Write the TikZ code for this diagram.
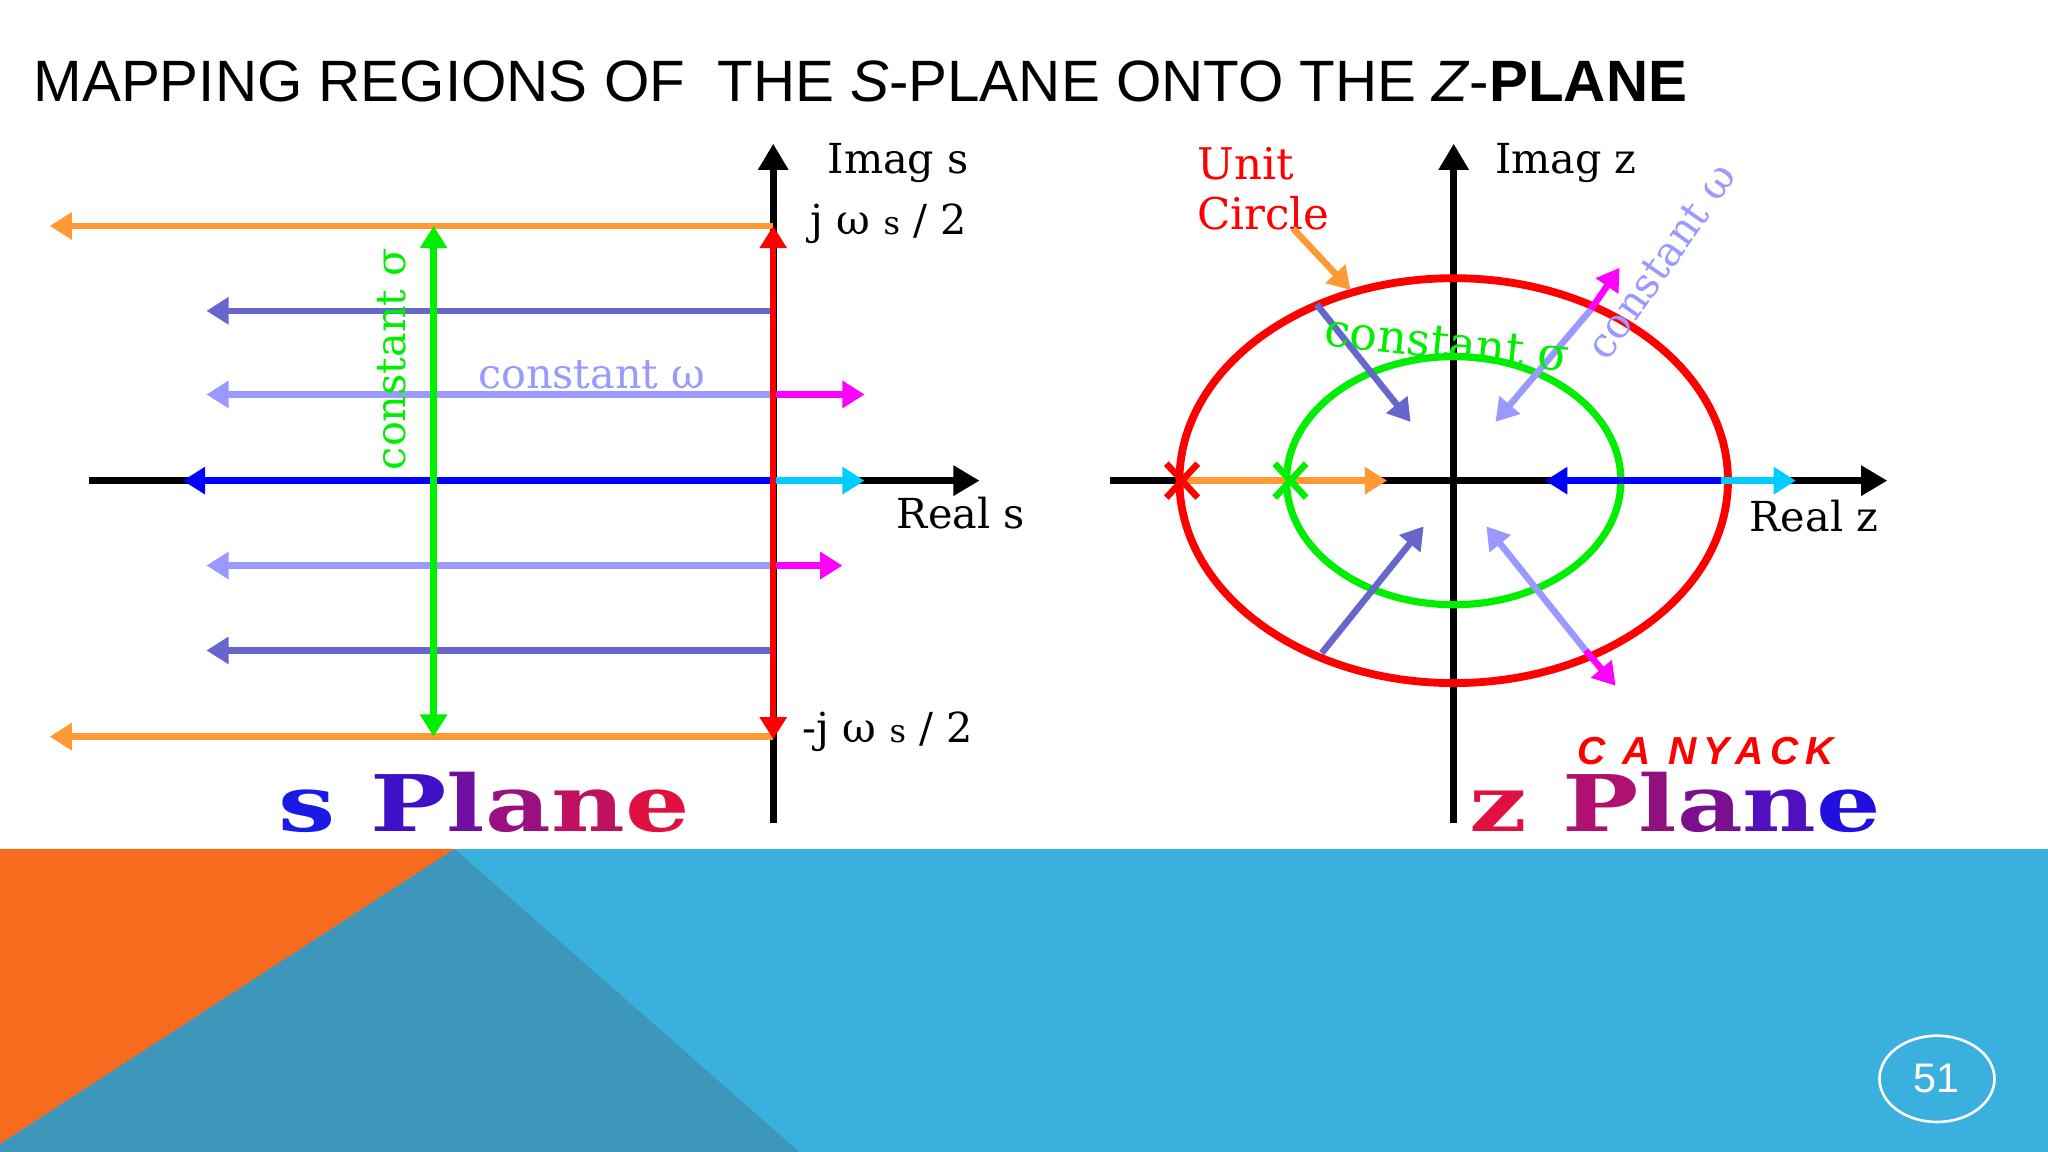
\documentclass[tikz,border=0pt]{standalone}
\usepackage{fontspec}
\setmainfont{DejaVu Serif}
\newfontfamily\ttl{Liberation Sans}
\newfontfamily\djfont{DejaVu Serif}
\usetikzlibrary{arrows.meta,shapes.geometric}
\definecolor{orng}{HTML}{FF9933}
\definecolor{slate}{HTML}{6666CC}
\definecolor{lpur}{HTML}{9999FF}
\definecolor{mag}{HTML}{FF00FF}
\definecolor{cy}{HTML}{00CCFF}
\definecolor{grn}{HTML}{00EE00}
\definecolor{bandblue}{HTML}{3AB0DF}
\definecolor{bandteal}{HTML}{3D97BA}
\definecolor{bandor}{HTML}{F76B1F}
\tikzset{x=0.01cm,y=-0.01cm,
 ar/.style={line width=0.05cm,-{Triangle[width=0.2cm,length=0.17cm]}},
 dar/.style={line width=0.05cm,{Triangle[width=0.2cm,length=0.17cm]}-{Triangle[width=0.2cm,length=0.17cm]}},
 axis/.style={line width=0.055cm,-{Triangle[width=0.22cm,length=0.2cm]}},
 lbl/.style={font=\fontsize{9}{10}\selectfont,inner sep=0pt},
 big/.style={font=\fontsize{17}{17}\selectfont\bfseries,inner sep=0pt,xscale=1.3}}
\begin{document}
\begin{tikzpicture}
\useasboundingbox (0,0) rectangle (1568,882);
\fill[white] (0,0) rectangle (1568,882);
% band
\fill[bandblue] (0,650) rectangle (1568,882);
\fill[bandor] (0,650) -- (348,650) -- (0,876) -- cycle;
\fill[bandteal] (348,650) -- (612,882) -- (0,882) -- (0,876) -- cycle;
\node[draw=white,line width=0.02cm,ellipse,minimum width=0.88cm,minimum height=0.66cm,inner sep=0pt] (pg) at (1483,826) {};
\node[text=white,font=\ttl\fontsize{9}{9}\selectfont] (pgn) at (1483,826) {51};
% title
\node[anchor=base west,inner sep=0pt,font=\ttl\fontsize{12.7}{13}\selectfont] (title) at (25,78) {MAPPING REGIONS OF\ \ THE \textit{S}-PLANE ONTO THE \textit{Z}-\textbf{PLANE}};
% ---------- s plane ----------
\coordinate (iab) at (592,630); \coordinate (iat) at (592,110);
\draw[axis] (iab) -- (iat);
\coordinate (ral) at (68,368); \coordinate (rar) at (750,368);
\draw[axis] (ral) -- (rar);
\foreach \y/\e/\c in {173/38/orng,564/38/orng,238/158/slate,498/158/slate,302/158/lpur,433/158/lpur,368/140/blue}{
  \coordinate (s\y) at (592,\y); \coordinate (e\y) at (\e,\y);
  \draw[ar,\c] (s\y) -- (e\y);}
\coordinate (m1) at (662,302); \coordinate (m2) at (645,433); \coordinate (c1) at (662,368);
\draw[ar,mag] (s302) -- (m1);
\draw[ar,mag] (s433) -- (m2);
\draw[ar,cy] (s368) -- (c1);
\coordinate (rt) at (592,173); \coordinate (rb) at (592,566);
\draw[dar,red] (rt) -- (rb);
\coordinate (gt) at (332,173); \coordinate (gb) at (332,564);
\draw[dar,grn] (gt) -- (gb);
\node[lbl,text=grn,rotate=90] (cs) at (300,275) {constant σ};
\node[lbl,text=lpur] (cw) at (453,287) {constant ω};
\node[lbl,anchor=west] (ims) at (633,125) {Imag s};
\node[lbl,anchor=west] (jw) at (620,171) {j ω {\fontsize{7}{7}\selectfont s} / 2};
\node[lbl,anchor=west] (res) at (686,393) {Real s};
\node[lbl,anchor=west] (mjw) at (614,560) {-j ω {\fontsize{7}{7}\selectfont s} / 2};
\node[big,anchor=base west] (sp) at (212,637) {\djfont\textcolor[HTML]{1A1AE6}{s} \textcolor[HTML]{4010C8}{P}\textcolor[HTML]{7010A0}{l}\textcolor[HTML]{9A1080}{a}\textcolor[HTML]{C01060}{n}\textcolor[HTML]{E01040}{e}};
% ---------- z plane ----------
\coordinate (zab) at (1113,630); \coordinate (zat) at (1113,110);
\draw[axis] (zab) -- (zat);
\coordinate (zrl) at (850,368); \coordinate (zrr) at (1445,368);
\draw[axis] (zrl) -- (zrr);
\coordinate (zc) at (1113,368);
\draw[red,line width=0.06cm] (zc) ellipse [x radius=210,y radius=155];
\draw[grn,line width=0.055cm] (zc) ellipse [x radius=128,y radius=95];
\coordinate (xr) at (905,368); \coordinate (xg) at (988,368);
\coordinate (oe) at (1062,368);
\draw[ar,orng] (xr) -- (oe);
\draw[red,line width=0.05cm] (893,355) -- (917,381) (893,381) -- (917,355);
\draw[grn,line width=0.05cm] (976,355) -- (1000,381) (976,381) -- (1000,355);
\coordinate (bs) at (1318,368); \coordinate (be) at (1183,368); \coordinate (ce) at (1375,368);
\draw[ar,blue] (bs) -- (be);
\draw[ar,cy] (bs) -- (ce);
\coordinate (d1) at (1008,233); \coordinate (d1e) at (1080,323);
\coordinate (d2) at (1218,237); \coordinate (d2e) at (1145,323);
\coordinate (d2m) at (1240,205);
\coordinate (d3) at (1012,500); \coordinate (d3e) at (1090,403);
\coordinate (d4) at (1214,498); \coordinate (d4e) at (1138,403);
\coordinate (d4m) at (1237,525);
\draw[ar,slate] (d1) -- (d1e);
\draw[ar,lpur] (d2) -- (d2e);
\draw[ar,mag] (d2) -- (d2m);
\draw[ar,slate] (d3) -- (d3e);
\draw[ar,lpur] (d4) -- (d4e);
\draw[ar,mag] (d4) -- (d4m);
\node[lbl,text=red,align=left,anchor=north west,font=\fontsize{9.5}{11}\selectfont] (uc) at (916,112) {Unit\\Circle};
\coordinate (ua) at (990,175); \coordinate (ub) at (1034,222);
\draw[ar,orng] (ua) -- (ub);
\node[lbl,text=grn,rotate=-6,font=\fontsize{10}{11}\selectfont] (csz) at (1108,263) {constant σ};
\node[lbl,text=lpur,rotate=55] (cwz) at (1272,200) {constant ω};
\node[lbl,anchor=west] (imz) at (1144,125) {Imag z};
\node[lbl,anchor=west] (rez) at (1339,395) {Real z};
\node[anchor=base west,inner sep=0pt,text=red,font=\ttl\bfseries\itshape\fontsize{8.5}{9}\selectfont] (ny) at (1207,585) {C\, A\, N\,Y\,A\,C\,K};
\node[big,anchor=base west] (zp) at (1124,637) {\djfont\textcolor[HTML]{E01040}{z} \textcolor[HTML]{B01070}{P}\textcolor[HTML]{901080}{l}\textcolor[HTML]{7A1090}{a}\textcolor[HTML]{5010C0}{n}\textcolor[HTML]{2010E0}{e}};
\end{tikzpicture}
\end{document}
